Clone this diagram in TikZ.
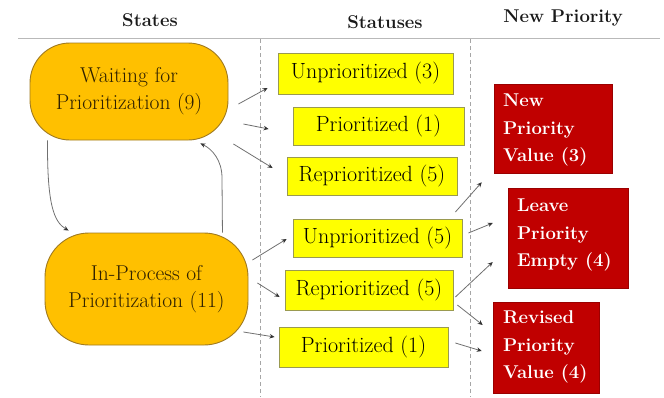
\documentclass[tikz,border=0pt]{standalone}
\usepackage{fontspec}
\usetikzlibrary{calc,arrows.meta}
\definecolor{stateorange}{HTML}{FFC000}
\definecolor{stateborder}{HTML}{A07A20}
\definecolor{statetext}{HTML}{2E2000}
\definecolor{statusyellow}{HTML}{FFFF00}
\definecolor{statusborder}{HTML}{9A9A50}
\definecolor{prio}{HTML}{C00000}
\definecolor{linegray}{HTML}{707070}
\tikzset{
  statebox/.style={draw=stateborder, line width=0.9pt, fill=stateorange, rounded corners=40pt,
    text=statetext, align=center, inner sep=0pt, font=\fontsize{21.5}{27}\selectfont},
  statusbox/.style={draw=statusborder, line width=0.8pt, fill=statusyellow, inner sep=0pt,
    text=black, font=\fontsize{22}{26}\selectfont},
  priobox/.style={fill=prio, draw=prio!80!black, line width=0.5pt, inner sep=0pt, text=white,
    font=\bfseries\fontsize{18.5}{27.5}\selectfont},
  header/.style={font=\bfseries\fontsize{18.5}{25}\selectfont, text=black!90},
  arr/.style={draw=linegray, line width=0.8pt, -{Stealth[length=5pt,width=4.5pt,color=black!80]}},
  sep/.style={draw=gray!70, line width=0.6pt, dash pattern=on 4pt off 3pt},
}
\begin{document}
\begin{tikzpicture}[x=1pt,y=-1pt]
\useasboundingbox (0,0) rectangle (664,397);
% headers
\node[header] (hs) at (150,20) {States};
\node[header] (ht) at (385,22) {Statuses};
\node[header] (hp) at (563,18) {New Priority};
\coordinate (hl) at (18,38);
\coordinate (hr) at (660,38);
\draw[gray!55, line width=1pt] (hl) -- (hr);
\coordinate (d1t) at (260,39);
\coordinate (d1b) at (260,397);
\coordinate (d2t) at (470,39);
\coordinate (d2b) at (470,397);
\draw[sep] (d1t) -- (d1b);
\draw[sep] (d2t) -- (d2b);
% states
\node[statebox, minimum width=198pt, minimum height=97pt] (W) at (129,91.5) {Waiting for\\Prioritization (9)};
\node[statebox, rounded corners=44pt, minimum width=203pt, minimum height=112pt] (I) at (146.5,289) {In-Process of\\Prioritization (11)};
% statuses
\node[statusbox, minimum width=175pt, minimum height=41pt] (U3) at (365.5,73.5) {Unprioritized (3)};
\node[statusbox, minimum width=171pt, minimum height=38pt] (P1) at (378.5,126) {Prioritized (1)};
\node[statusbox, minimum width=170pt, minimum height=38pt] (R5a) at (372,176) {Reprioritized (5)};
\node[statusbox, minimum width=169pt, minimum height=38pt] (U5) at (377.5,238) {Unprioritized (5)};
\node[statusbox, minimum width=168pt, minimum height=40pt] (R5b) at (369,290) {Reprioritized (5)};
\node[statusbox, minimum width=169pt, minimum height=40pt] (P1b) at (363.5,347) {Prioritized (1)};
% new priority
\node[priobox, minimum width=118pt, minimum height=89pt] (NPV) at (553,128.5) {};
\node[priobox, minimum width=120pt, minimum height=100pt] (LPE) at (568,238) {};
\node[priobox, minimum width=106pt, minimum height=91pt] (RPV) at (546,347.5) {};
\node[priobox, fill=none, draw=none, anchor=west, align=left] (NPVt) at ($(NPV.west)+(9,1.5)$) {New\\Priority\\Value (3)};
\node[priobox, fill=none, draw=none, anchor=west, align=left] (LPEt) at ($(LPE.west)+(9,-3)$) {Leave\\Priority\\Empty (4)};
\node[priobox, fill=none, draw=none, anchor=west, align=left] (RPVt) at ($(RPV.west)+(10,-0.5)$) {Revised\\Priority\\Value (4)};
% state transitions
\draw[arr] ($(W.south west)+(18,0)$) .. controls (47,205) and (54,222) .. ($(I.north west)+(24,-2)$);
\draw[arr] ($(I.north east)+(-26,0)$) -- (222,178) .. controls (222,160) and (212,149) .. ($(W.south east)+(-28,3)$);
% state -> status
\draw[arr] ($(W.east)+(10,12.5)$) -- ($(U3.west)+(-10,14.5)$);
\draw[arr] ($(W.east)+(15,32.5)$) -- ($(P1.west)+(-24,3)$);
\draw[arr] ($(W.east)+(5,52.5)$) -- ($(R5a.west)+(-14,-8)$);
\draw[arr] ($(I.east)+(4,-29)$) -- ($(U5.west)+(-6,1)$);
\draw[arr] ($(I.east)+(9,-6)$) -- ($(R5b.west)+(-5,7)$);
\draw[arr] ($(I.east)+(-5,43)$) -- ($(P1b.west)+(-4,-10)$);
% status -> priority
\draw[arr] ($(U5.east)+(-7,-26)$) -- ($(NPV.south west)+(-12,9)$);
\draw[arr] ($(U5.east)+(6,-5)$) -- ($(LPE.west)+(-15,-15)$);
\draw[arr] ($(R5b.east)+(2,7)$) -- ($(LPE.west)+(-15,24)$);
\draw[arr] ($(R5b.east)+(4,15)$) -- ($(RPV.west)+(-10,-22.5)$);
\draw[arr] ($(P1b.east)+(7,-4)$) -- ($(RPV.west)+(-11,3.5)$);
\end{tikzpicture}
\end{document}
